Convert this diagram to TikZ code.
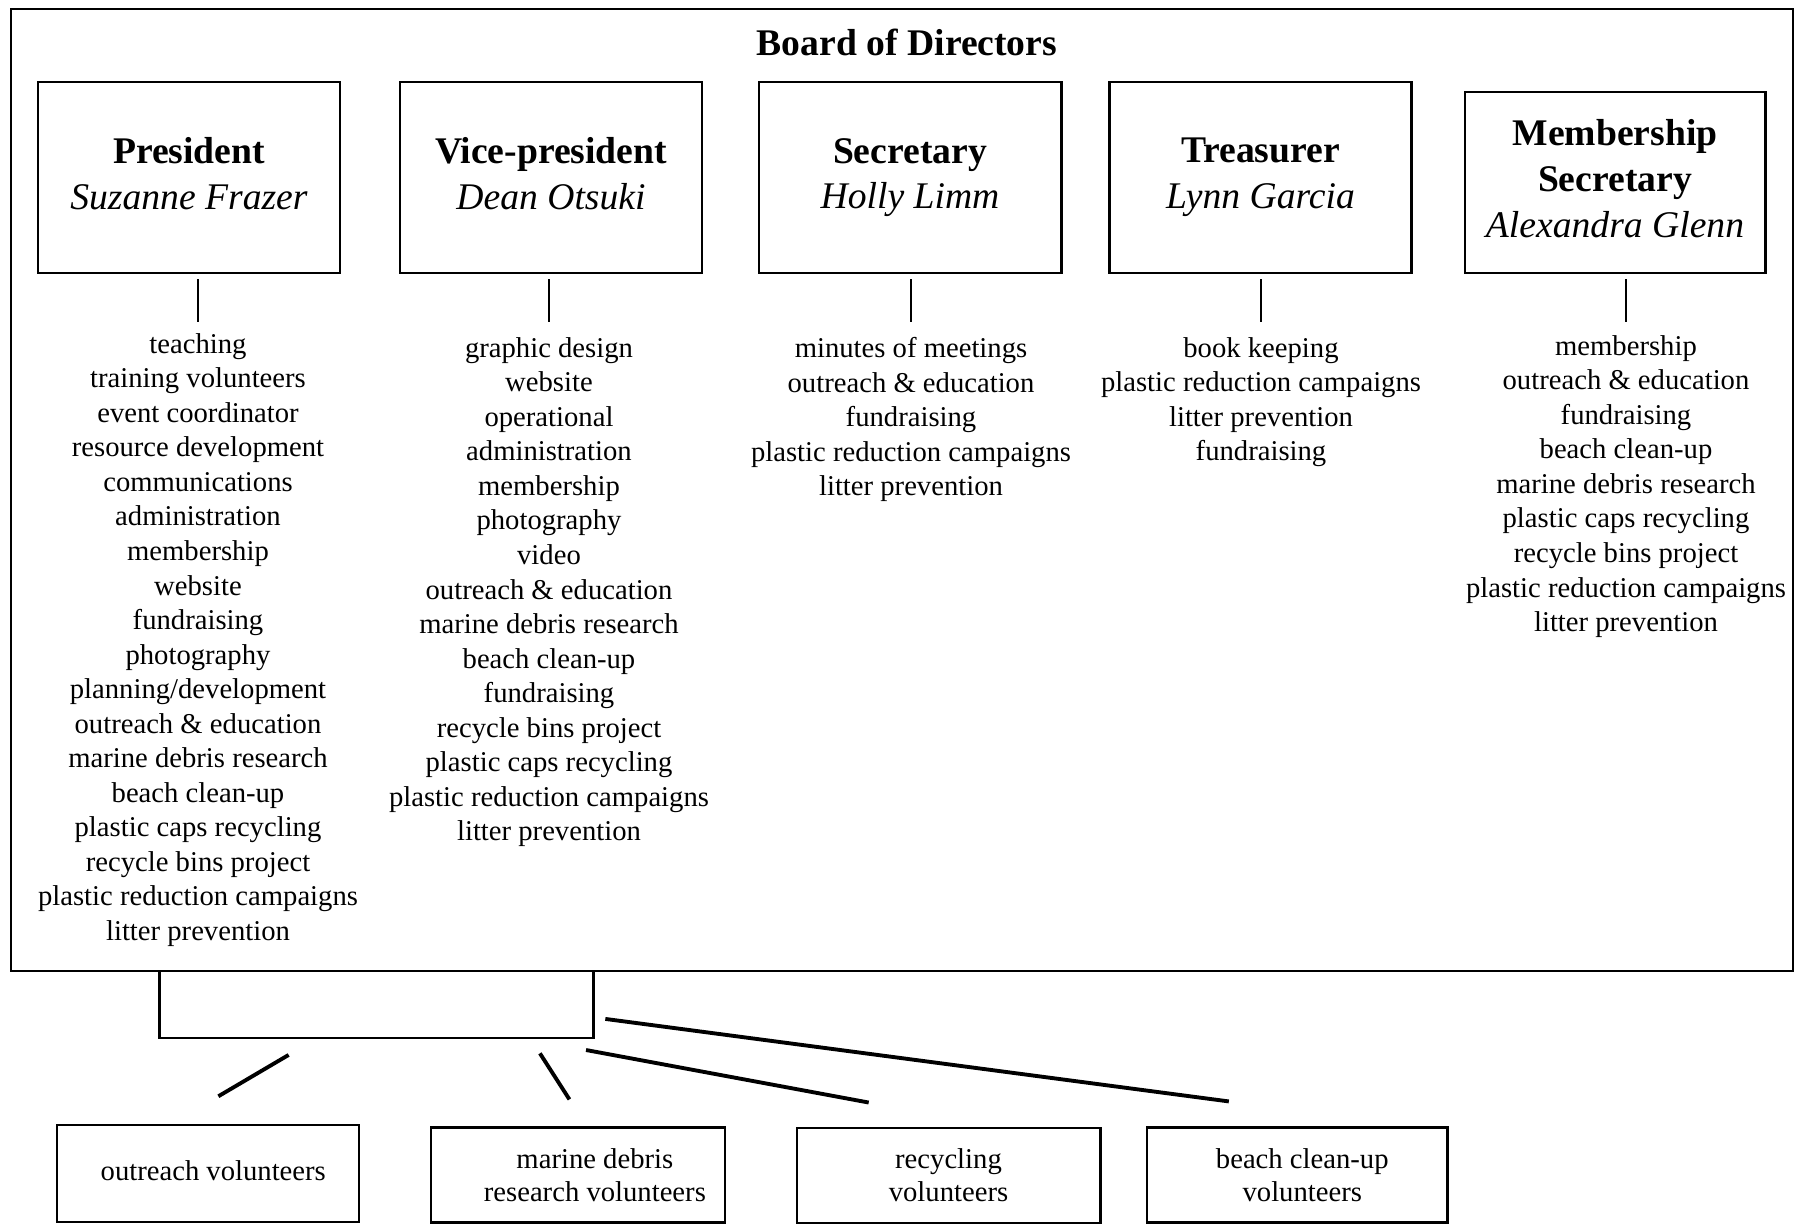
\documentclass[tikz,border=0pt]{standalone}
\usepackage{fontspec}
\setmainfont{Liberation Serif}
\usetikzlibrary{calc}
\newcommand{\role}[2]{\textbf{#1}\\\textit{#2}}

\begin{document}
\begin{tikzpicture}[x=0.01cm,y=-0.01cm,line width=0.8pt,
  post/.style={draw,minimum width=3.02cm,minimum height=1.91cm,align=center,text depth=2.3pt,font=\fontsize{10.7}{13}\selectfont},
  duties/.style={anchor=north,align=center,inner sep=0pt,font=\fontsize{8.15}{9.82}\selectfont},
  crew/.style={draw,minimum height=0.95cm,align=center,font=\fontsize{8.15}{9.4}\selectfont},
  link/.style={line width=1.1pt}]
  \useasboundingbox (0,0) rectangle (1796,1225);
  \draw (11,9) rectangle (1793,971);
  \node[font=\fontsize{10.7}{13}\selectfont\bfseries] (board) at (907,42) {Board of Directors};
  \node[post] (pres)  at (189,177.5)   {\role{President}{Suzanne Frazer}};
  \node[post] (vice)  at (551,177.5)   {\role{Vice-president}{Dean Otsuki}};
  \node[post] (sec)   at (910,177.5)   {\role{Secretary}{Holly Limm}};
  \node[post] (treas) at (1260.5,177.5) {\role{Treasurer}{Lynn Garcia}};
  \node[post,minimum width=3cm,minimum height=1.81cm] (mem) at (1615,182.5)
    {\textbf{Membership}\\\textbf{Secretary}\\\textit{Alexandra Glenn}};
  \node[duties] (plist) at (198,332) {teaching\\training volunteers\\event coordinator\\resource development\\communications\\administration\\membership\\website\\fundraising\\photography\\planning/development\\outreach \& education\\marine debris research\\beach clean-up\\plastic caps recycling\\recycle bins project\\plastic reduction campaigns\\litter prevention};
  \node[duties] (vlist) at (549,336) {graphic design\\website\\operational\\administration\\membership\\photography\\video\\outreach \& education\\marine debris research\\beach clean-up\\fundraising\\recycle bins project\\plastic caps recycling\\plastic reduction campaigns\\litter prevention};
  \node[duties] (slist) at (911,336) {minutes of meetings\\outreach \& education\\fundraising\\plastic reduction campaigns\\litter prevention};
  \node[duties] (tlist) at (1261,336) {book keeping\\plastic reduction campaigns\\litter prevention\\fundraising};
  \node[duties] (mlist) at (1626,334) {membership\\outreach \& education\\fundraising\\beach clean-up\\marine debris research\\plastic caps recycling\\recycle bins project\\plastic reduction campaigns\\litter prevention};
  \draw ($(pres.south -| plist)+(0,5)$) -- ++(0,43)
        ($(vice.south -| vlist)+(0,5)$) -- ++(0,43)
        ($(sec.south -| slist)+(0,5)$) -- ++(0,43)
        ($(treas.south -| tlist)+(0,5)$) -- ++(0,43)
        ($(mem.south -| mlist)+(0,5)$) -- ++(0,43);
  \node[draw,minimum width=4.33cm,minimum height=0.67cm] (hub) at (376.5,1004.5) {};
  \node[crew,minimum width=3.02cm,minimum height=0.97cm] (out) at (208,1173.5) {\hspace*{3pt}outreach volunteers\vphantom{p}};
  \node[crew,minimum width=2.94cm] (mar) at (578,1175) {\hspace*{9.6pt}marine debris\\\hspace*{9.6pt}research volunteers};
  \node[crew,minimum width=3.03cm] (rec) at (948.5,1175.5) {recycling\\volunteers};
  \node[crew,minimum width=3cm] (bea) at (1297,1175) {\hspace*{3pt}beach clean-up\\\hspace*{3pt}volunteers};
  \draw[link,shorten <=8.7pt,shorten >=15.3pt] ($(hub.south)+(-61.5,0)$) -- ($(out.north)+(-36,0)$);
  \draw[link,shorten <=4.7pt,shorten >=9pt] ($(hub.south)+(154.5,0)$) -- ($(mar.north)+(8.5,0)$);
  \draw[link,shorten <=16.5pt,shorten >=37.4pt] ($(hub.south)+(152.5,0)$) -- ($(rec.north)+(49.5,0)$);
  \draw[link,shorten <=3.1pt,shorten >=53.4pt] ($(hub.east)+(0,13)$) -- ($(bea.north)+(118,0)$);
\end{tikzpicture}
\end{document}
